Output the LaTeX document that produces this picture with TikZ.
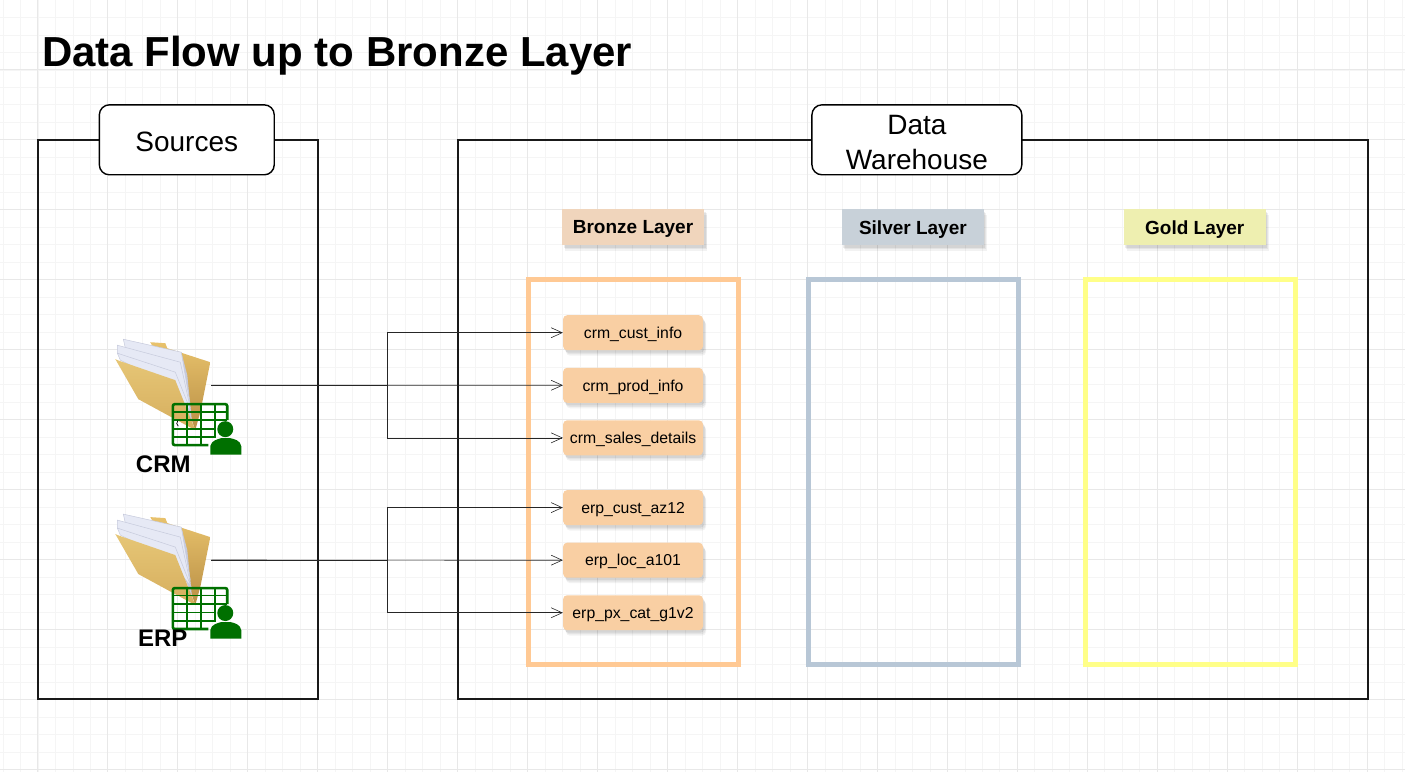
\documentclass[tikz,border=0pt]{standalone}
\usepackage{fontspec}
\setmainfont{Liberation Sans}
\usepackage{tikz}
\usetikzlibrary{positioning,
                shadows,
                arrows.meta}
\definecolor{gridminor}{HTML}{F5F5F5}
\definecolor{gridmajor}{HTML}{E8E8E8}
\definecolor{bronzeline}{HTML}{FFC994}
\definecolor{bronzehead}{HTML}{F0D5BC}
\definecolor{bronzetable}{HTML}{F9CFA3}
\definecolor{silverline}{HTML}{B8C7D6}
\definecolor{silverhead}{HTML}{C8D1D9}
\definecolor{goldline}{HTML}{FFFF88}
\definecolor{goldhead}{HTML}{EEEFB0}
\definecolor{foldertan}{HTML}{E8C26C}
\definecolor{folderdark}{HTML}{B98F45}
\definecolor{folderfront}{HTML}{E6C676}
\definecolor{folderlow}{HTML}{D6AE5E}
\definecolor{paperpale}{HTML}{E6E9F5}
\definecolor{paperedge}{HTML}{C6CADC}
\definecolor{sheetgreen}{HTML}{007000}

\begin{document}
\begin{tikzpicture}
       [x=1pt,y=-1pt,
        panel/.style={draw=black!90,line width=2pt,shape=rectangle,anchor=north west},
        tabbox/.style={draw=black,fill=white,shape=rectangle,line width=1.4pt,
                       rounded corners=10pt,minimum height=70pt,
                       align=center,font=\fontsize{28}{35}\selectfont},
        softshadow/.style={drop shadow={shadow xshift=3pt,shadow yshift=-5.5pt,
                                        opacity=0.05,fill=black},
                           drop shadow={shadow xshift=2.5pt,shadow yshift=-4pt,
                                        opacity=0.06,fill=black},
                           drop shadow={shadow xshift=1.5pt,shadow yshift=-2.5pt,
                                        opacity=0.07,fill=black}},
        layerhead/.style={shape=rectangle,minimum width=142pt,minimum height=36pt,
                          inner sep=0pt,text depth=0pt,softshadow,
                          font=\fontsize{19}{22}\bfseries\selectfont},
        layerbox/.style={shape=rectangle,fill=none,line width=5pt,anchor=north west,
                         minimum width=210pt,minimum height=385pt},
        tablebox/.style={shape=rectangle,fill=bronzetable,rounded corners=4pt,
                         minimum width=140pt,minimum height=35pt,inner sep=0pt,
                         text depth=0pt,softshadow,font=\fontsize{15.8}{19}\selectfont},
        srclabel/.style={font=\fontsize{24}{28}\bfseries\selectfont},
        link/.style={draw=black!85,line width=0.7pt,
                     -{Straight Barb[length=11pt,width=10pt,line width=0.6pt]}},
        paper/.style={fill=paperpale,draw=paperedge,line width=0.5pt,line join=round},
        pics/foldericon/.style={code={
           % back of the folder
           \shade[top color=foldertan,middle color=foldertan,bottom color=folderdark]
                 (50,12) -- (65,13) -- (67,18)
                 -- (110,32) -- (100,82) -- (95,100) -- (88,80) -- cycle;
           % papers
           \fill[paperedge] (81,22) -- (87,45) -- (92,95) -- (84,70) -- cycle;
           \draw[paper] (23,9) -- (81,22) -- (90,75) -- (70,45) -- (27,27) -- cycle;
           \draw[paper] (17,15) -- (80,32) -- (90,78) -- (70,50) -- (17,23) -- cycle;
           \draw[paper] (17,23) -- (75,42) -- (91,82) -- (70,55) -- (20,30) -- cycle;
           % front of the folder
           \shade[top color=folderfront,bottom color=folderlow]
                 (15,29) -- (20,31) -- (75,50) -- (95,100) -- (38,69) -- cycle;
        }},
        pics/sheeticon/.style={code={
           % table and person
           \draw[sheetgreen,line width=2.6pt,rounded corners=2pt]
                 (127,90) -- (127,74) -- (72.5,74) -- (72.5,115) -- (108,115);
           \foreach \gx in {87,101} \draw[sheetgreen,line width=1.8pt] (\gx,74) -- (\gx,115);
           \draw[sheetgreen,line width=1.8pt] (114.5,74) -- (114.5,107);
           \foreach \gy in {81.5,90} \draw[sheetgreen,line width=1.8pt] (72.5,\gy) -- (127,\gy);
           \foreach \gy in {98.5,107} \draw[sheetgreen,line width=1.8pt] (72.5,\gy) -- (115.5,\gy);
           \fill[sheetgreen] (125,99) circle (8pt);
           \fill[sheetgreen] (110,124.5) -- (110,116) .. controls (111,110) and (118,109) .. (121,108)
                 -- (130,108) .. controls (134,109) and (140,110) .. (141,116) -- (141,124.5) -- cycle;
        }}]
       % grid of the canvas
       \foreach \gx in {2.5,20,...,1405} \draw[gridminor,line width=0.7pt] (\gx,0) -- (\gx,772);
       \foreach \gy in {17,34.5,...,772} \draw[gridminor,line width=0.7pt] (0,\gy) -- (1405,\gy);
       \foreach \gx in {37.5,107.5,...,1405} \draw[gridmajor,line width=0.8pt] (\gx,0) -- (\gx,772);
       \foreach \gy in {69.5,139.5,...,772} \draw[gridmajor,line width=0.8pt] (0,\gy) -- (1405,\gy);
       \useasboundingbox (0,0) rectangle (1405,772);

       \node [anchor=west,inner sep=0pt,font=\fontsize{42}{48}\bfseries\selectfont]
             (heading) at (41.5,55) {Data Flow up to Bronze Layer};

       % sources
       \node [panel,minimum width=280pt,minimum height=559.5pt] (sources) at (37,138.5) {};
       \node [tabbox,minimum width=175pt,text height=24pt] (sourcestab) at (186.5,139.5) {Sources};
       \pic at (100,330) {foldericon};
       \pic at (100,330) {sheeticon};
       \pic at (100,505) {foldericon};
       \pic at (100,514) {sheeticon};
       \draw[black,line width=0.7pt] (177.5,420.5) .. controls (176,422) and (176,425) .. (178,426);
       \coordinate (crmfolder) at (211,385);
       \coordinate (erpfolder) at (211,560);
       \node [srclabel] (crm) at (163,464) {CRM};
       \node [srclabel] (erp) at (162.5,638) {ERP};

       % warehouse
       \node [panel,minimum width=910pt,minimum height=559.5pt] (warehouse) at (457,138.5) {};
       \node [tabbox,minimum width=210pt,text height=59pt] (warehousetab) at (917,139.5) {Data\\Warehouse};

       \node [layerhead,fill=bronzehead] (bronzehead) at (633,227) {Bronze Layer};
       \node [layerhead,fill=silverhead] (silverhead) at (913,227) {Silver Layer};
       \node [layerhead,fill=goldhead] (goldhead) at (1195,227) {Gold Layer};

       \node [layerbox,draw=bronzeline] (bronze) at (526,277) {};
       \node [layerbox,draw=silverline] (silver) at (806,277) {};
       \node [layerbox,draw=goldline,minimum width=209.5pt] (gold) at (1083.5,277) {};

       % tables
       \node [tablebox] (crmcust) at (633,332.5) {crm\_cust\_info};
       \node [tablebox,below=17.2pt of crmcust] (crmprod) {crm\_prod\_info};
       \node [tablebox,below=17.2pt of crmprod] (crmsales) {crm\_sales\_details};
       \node [tablebox] (erpcust) at (633,507.5) {erp\_cust\_az12};
       \node [tablebox,below=17.2pt of erpcust] (erploc) {erp\_loc\_a101};
       \node [tablebox,below=17.2pt of erploc] (erppx) {erp\_px\_cat\_g1v2};

       \draw [link] (crmfolder) -- (crmprod.west);
       \draw [link] (crmfolder) -- ++(176,0) |- (crmcust.west);
       \draw [link] (crmfolder) -- ++(176,0) |- (crmsales.west);
       \draw [link] (erpfolder) -- (erploc.west);
       \draw [link] (erpfolder) -- ++(176,0) |- (erpcust.west);
       \draw [link] (erpfolder) -- ++(176,0) |- (erppx.west);
\end{tikzpicture}
\end{document}
